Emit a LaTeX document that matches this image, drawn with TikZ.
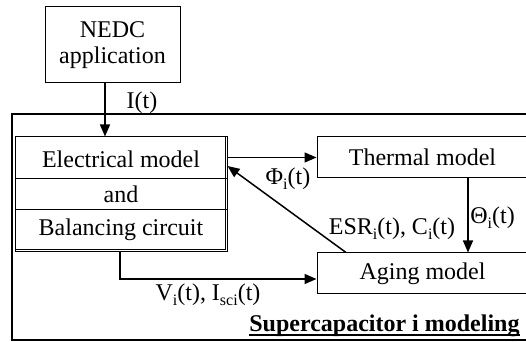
\documentclass[tikz,border=0pt]{standalone}
\usepackage{fontspec}
\setmainfont{Liberation Serif}
\usetikzlibrary{arrows.meta,calc}
\tikzset{
  box/.style={draw,line width=0.5pt,inner sep=0pt,font=\fontsize{12}{14}\selectfont,align=center},
  txt/.style={inner sep=0pt,font=\fontsize{12}{14}\selectfont},
  arr/.style={line width=0.75pt,-{Triangle[length=6pt,width=5pt]}},
}
\newcommand\myul[1]{\setbox0\hbox{#1}\rlap{\rule[-2.2pt]{\wd0}{1pt}}\box0}
\newcommand\mysub[1]{\raisebox{-2.5pt}{\fontsize{8}{9}\selectfont #1}}
\begin{document}
\begin{tikzpicture}[x=0.5pt,y=-0.5pt]
\useasboundingbox (0,0) rectangle (526,342);
% outer frame
\draw[line width=1pt] (530,114) -- (12,114) -- (12,340) -- (530,340);
% nodes
\node[box,minimum width=67.5pt,minimum height=38pt] (nedc) at (112.5,45) {NEDC\\[-1pt]application};
\node[box,minimum width=106pt,minimum height=57.5pt] (elec) at (121,194.5) {};
\node[box,minimum width=105.5pt,minimum height=20.5pt] (thermal) at (422.5,157.5) {Thermal model};
\node[box,minimum width=105.5pt,minimum height=20.5pt] (aging) at (422.5,273.5) {Aging model};
% elec box internals
\draw[line width=0.5pt] (elec.west |- 0,179) -- (elec.east |- 0,179);
\draw[line width=0.5pt] (elec.west |- 0,210) -- (elec.east |- 0,210);
\draw[line width=0.5pt] ($(elec.north east)+(-2.5,0)$) -- ($(elec.south east)+(-2.5,-2.5)$) -- ($(elec.south west)+(0,-2.5)$);
\node[txt] (t1) at (121,159) {Electrical model};
\node[txt] (t2) at (121,194.5) {and};
\node[txt] (t3) at (121,230) {Balancing circuit};
% helper coordinates
\coordinate (ix) at (105,0);
\coordinate (thx) at (468,0);
\coordinate (phx) at (346,0);
\coordinate (phy) at (0,166);
\coordinate (vx) at (120,0);
\coordinate (vy) at (0,279);
% connectors
\draw[arr] (nedc.south -| ix) -- (elec.north -| ix);
\draw[arr] (elec.east |- thermal.west) -- (thermal.west);
\draw[arr] (thermal.south -| thx) -- (aging.north -| thx);
\draw[arr] (aging.north -| phx) -- (elec.east |- phy);
\draw[arr] (elec.south -| vx) -- (vx |- vy) -- (aging.west |- vy);
% labels
\node[txt] (li) at (142,103) {I(t)};
\node[txt] (lphi) at (288,179) {Φ\mysub{i}(t)};
\node[txt,anchor=west] (lth) at (470,218) {Θ\mysub{i}(t)};
\node[txt] (lesr) at (392,229) {ESR\mysub{i}(t), C\mysub{i}(t)};
\node[txt] (lv) at (208,295) {V\mysub{i}(t), I\mysub{sci}(t)};
\node[txt,anchor=base east] (lsc) at (520,332) {\myul{\textbf{Supercapacitor i modeling}}};
\end{tikzpicture}
\end{document}
